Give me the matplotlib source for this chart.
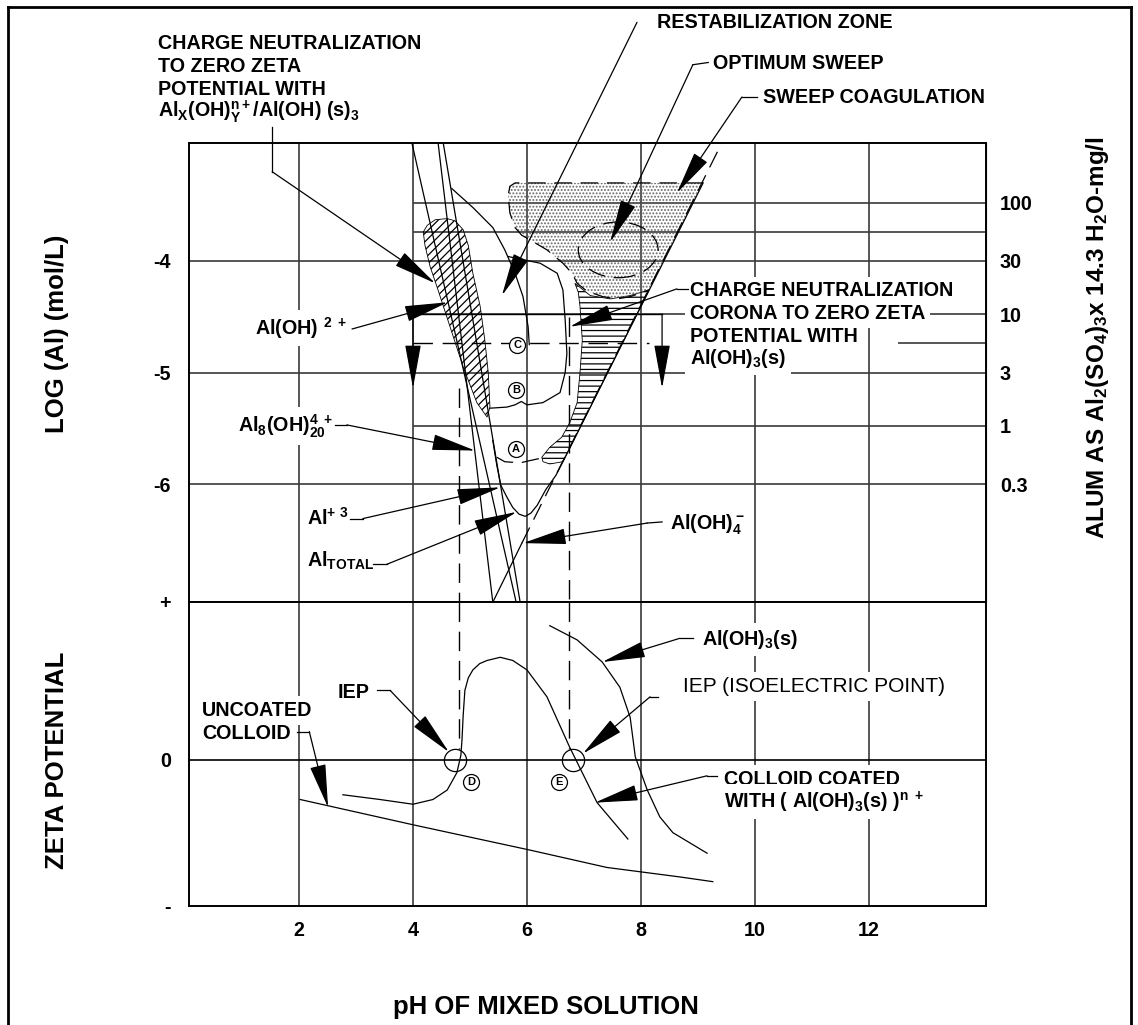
import matplotlib
matplotlib.use('Agg')
import numpy as np
import matplotlib.pyplot as plt
from matplotlib.lines import Line2D
from matplotlib.patches import Ellipse
from matplotlib.transforms import offset_copy

plt.rcParams['font.family'] = ['Liberation Sans', 'DejaVu Sans']
plt.rcParams['font.weight'] = 'bold'
plt.rcParams['mathtext.fontset'] = 'custom'
plt.rcParams['mathtext.rm'] = 'Liberation Sans:bold'
plt.rcParams['mathtext.it'] = 'Liberation Sans:bold'
plt.rcParams['mathtext.bf'] = 'Liberation Sans:bold'
plt.rcParams['mathtext.default'] = 'rm'
plt.rcParams['hatch.linewidth'] = 0.9
plt.rcParams['axes.unicode_minus'] = False

# axis values
ph_ticks = [2, 4, 6, 8, 10, 12]
log_ticks = [-6, -5, -4]
log_labels = ['-6', '-5', '-4']
zeta_ticks = [-0.924, 0, 1]
zeta_labels = ['-', '0', '+']
alum_ticks = [100, 30, 10, 3, 1, 0.3]
alum_labels = ['100', '30', '10', '3', '1', '0.3']
alum_lines = [100, 55, 10, 1]
alum_c_line = 5.5
ALUM_OFFSET = 5.477

# solubility lines (pH, log Al)
al_oh2_ph, al_oh2_log = [3.98, 5.81], [-2.94, -7.06]
al3_ph, al3_log = [4.53, 5.88], [-2.94, -7.06]
al8_ph, al8_log = [4.44, 5.40], [-2.94, -7.06]
aloh4_ph, aloh4_log = [5.40, 5.91], [-7.06, -6.53]
aloh4_ext_ph, aloh4_ext_log = [5.91, 9.42], [-6.53, -2.94]
altot_ph = [5.40, 5.47, 5.54, 5.65, 5.75, 5.86, 5.97, 6.07, 6.18, 6.33, 6.51, 6.63, 9.09]
altot_log = [-5.61, -5.83, -6.01, -6.12, -6.21, -6.27, -6.29, -6.26, -6.19, -6.05, -5.92, -5.80, -3.30]

# zones
tear_ph = [4.25, 4.18, 4.21, 4.30, 4.42, 4.65, 4.88, 5.12, 5.30, 5.35, 5.32, 5.26, 5.18, 5.05, 4.97, 4.88, 4.74, 4.60, 4.39]
tear_log = [-3.68, -3.74, -3.86, -4.05, -4.23, -4.59, -4.95, -5.27, -5.40, -5.31, -5.00, -4.71, -4.41, -4.11, -3.86, -3.72, -3.64, -3.62, -3.63]
restab_ph = [4.68, 5.05, 5.40, 5.61, 5.79, 5.93, 6.02, 6.04]
restab_log = [-3.35, -3.52, -3.70, -3.90, -4.11, -4.32, -4.59, -4.75]
cb_ph = [5.67, 6.23, 6.53, 6.63, 6.67, 6.70, 6.67, 6.58, 6.28, 6.00, 5.90, 5.79, 5.65, 5.35]
cb_log = [-3.96, -4.02, -4.11, -4.26, -4.53, -4.83, -5.00, -5.18, -5.27, -5.29, -5.26, -5.29, -5.31, -5.32]
arc_a_ph = [5.47, 5.61, 5.88, 6.05, 6.23]
arc_a_log = [-5.76, -5.80, -5.81, -5.79, -5.77]
corona_ph = [6.84, 6.90, 6.93, 6.97, 6.93, 6.88, 6.75, 6.61, 6.40, 6.26, 6.28, 6.40, 6.63, 8.14, 7.81, 7.46, 7.11]
corona_log = [-4.20, -4.28, -4.41, -4.71, -5.00, -5.27, -5.45, -5.58, -5.67, -5.76, -5.80, -5.82, -5.80, -4.26, -4.31, -4.34, -4.31]
sweep_ph = [9.09, 5.79, 5.70, 5.67, 5.70, 5.79, 5.91, 6.05, 6.35, 6.63, 6.79, 6.88, 7.05, 7.33, 7.58, 7.81, 8.14]
sweep_log = [-3.30, -3.30, -3.33, -3.41, -3.57, -3.70, -3.77, -3.81, -3.90, -4.02, -4.11, -4.20, -4.27, -4.32, -4.34, -4.32, -4.26]
optimum_center = (7.60, -3.90)
optimum_size = (1.40, 0.50)
letters_top = ['C', 'B', 'A']
letters_top_ph = [5.83, 5.81, 5.81]
letters_top_log = [-4.75, -5.16, -5.69]
iep_dash_ph = [4.81, 6.74]
iep_dash_top = [-5.14, -4.50]

# zeta curves (pH, zeta)
uncoated_ph = [2.02, 4.00, 6.05, 7.40, 8.68, 9.26]
uncoated_z = [-0.25, -0.41, -0.57, -0.68, -0.74, -0.77]
coated_ph = [2.77, 3.42, 4.00, 4.35, 4.60, 4.77, 4.84, 4.86, 4.88, 4.91, 4.97, 5.05, 5.17, 5.30, 5.53, 5.75, 6.00, 6.35, 6.75, 7.23, 7.77]
coated_z = [-0.22, -0.25, -0.28, -0.25, -0.19, -0.08, 0.03, 0.13, 0.28, 0.44, 0.52, 0.57, 0.61, 0.63, 0.65, 0.63, 0.57, 0.40, 0.08, -0.27, -0.50]
aloh3_ph = [6.40, 6.88, 7.32, 7.63, 7.81, 7.90, 8.11, 8.33, 8.56, 9.16]
aloh3_z = [0.85, 0.76, 0.62, 0.46, 0.27, 0.02, -0.19, -0.36, -0.46, -0.59]
iep_ph = [4.74, 6.81]
letters_bot = ['D', 'E']
letters_bot_ph = [5.02, 6.56]
letters_bot_z = [-0.14, -0.14]

# leaders: polyline, last point is the arrow tip
lead_cn = ([1.53, 1.53, 4.39], [-2.80, -3.20, -4.20])
lead_restab = ([7.93, 5.56], [-1.86, -4.31])
lead_optimum = ([9.18, 8.91, 7.46], [-2.22, -2.24, -3.83])
lead_sweep = ([10.04, 9.77, 8.63], [-2.53, -2.53, -3.39])
lead_corona = ([8.83, 8.63, 6.75], [-4.25, -4.25, -4.59])
lead_aloh2 = ([2.93, 4.61], [-4.61, -4.37])
lead_al8 = ([2.63, 2.84, 5.09], [-5.47, -5.47, -5.70])
lead_al3 = ([2.89, 3.12, 5.53], [-6.31, -6.31, -6.03])
lead_altot = ([3.30, 3.54, 5.82], [-6.72, -6.72, -6.25])
lead_aloh4 = ([8.37, 8.11, 5.93], [-6.34, -6.35, -6.53])
lead_aloh3s = ([8.91, 8.68, 7.32], [0.77, 0.77, 0.62])
lead_iep_r = ([8.30, 8.16, 6.98], [0.40, 0.40, 0.04])
lead_coated = ([9.33, 9.16, 7.19], [-0.10, -0.10, -0.27])
lead_iep_l = ([3.37, 3.60, 4.63], [0.44, 0.44, 0.05])
lead_uncoated = ([1.97, 2.18, 2.51], [0.18, 0.18, -0.30])
bracket_ph = [4.0, 8.37]

XMIN, XMAX = 0.07, 14.053
GRID = '#3a3a3a'
DASH = (0, (14, 7))
FS = 14.2
TITLE_FS = 18.5

fig = plt.figure(figsize=(11.38, 10.25), dpi=100)
ax_top = fig.add_axes([0.16608, 0.41268, 0.70035, 0.44780])
ax_bot = fig.add_axes([0.16608, 0.11610, 0.70035, 0.29659])

for ax in (ax_top, ax_bot):
    ax.set_xlim(XMIN, XMAX)
    for s in ax.spines.values():
        s.set_linewidth(1.4)
    for ph in ph_ticks:
        ax.axvline(ph, color=GRID, lw=1.2, zorder=1)
    ax.tick_params(length=0, labelsize=FS)

ax_top.set_ylim(-7.058, -2.942)
ax_top.set_xticks([])
ax_top.set_yticks(log_ticks, labels=log_labels)
ax_top.tick_params(axis='y', pad=13)
for v in log_ticks:
    ax_top.axhline(v, color=GRID, lw=1.2, zorder=1)
for a in alum_lines:
    ax_top.hlines(np.log10(a) - ALUM_OFFSET, 4, XMAX, color=GRID, lw=1.2, zorder=1)
c_log = np.log10(alum_c_line) - ALUM_OFFSET
ax_top.hlines(c_log, 4, 8.14, color='k', lw=1.0, linestyles=DASH, zorder=1)
ax_top.hlines(c_log, 12.51, XMAX, color=GRID, lw=1.2, zorder=1)

sec = ax_top.secondary_yaxis('right', functions=(lambda v: 10 ** (v + ALUM_OFFSET),
                                                 lambda a: np.log10(np.maximum(a, 1e-9)) - ALUM_OFFSET))
sec.set_yticks(alum_ticks, labels=alum_labels)
sec.tick_params(length=0, pad=10, labelsize=FS)

ax_bot.set_ylim(-0.924, 1.0)
ax_bot.set_xticks(ph_ticks, labels=[str(p) for p in ph_ticks])
ax_bot.set_yticks(zeta_ticks, labels=zeta_labels)
ax_bot.tick_params(axis='y', pad=13)
ax_bot.tick_params(axis='x', pad=11)
ax_bot.axhline(0, color='k', lw=1.2, zorder=1)

kw = dict(color='k', lw=0.9, zorder=2)
# zones
ax_top.fill(tear_ph, tear_log, facecolor='none', edgecolor='k', hatch='////', lw=0.6, zorder=1.5)
ax_top.fill(corona_ph, corona_log, facecolor='none', edgecolor='k', hatch='---', lw=0.6, zorder=1.5)
ax_top.fill(sweep_ph, sweep_log, facecolor='none', edgecolor='#666666', hatch='.....', lw=0, zorder=1.5)
ax_top.plot(sweep_ph, sweep_log, color='k', lw=0.9, ls=DASH, zorder=2)
ax_top.add_patch(Ellipse(optimum_center, optimum_size[0], optimum_size[1], fill=False,
                         ec='k', lw=0.9, ls=DASH, zorder=2))

# species lines
ax_top.plot(al_oh2_ph, al_oh2_log, **kw)
ax_top.plot(al3_ph, al3_log, **kw)
ax_top.plot(al8_ph, al8_log, **kw)
ax_top.plot(aloh4_ph, aloh4_log, **kw)
ax_top.plot(aloh4_ext_ph, aloh4_ext_log, color='k', lw=0.9, ls=DASH, zorder=2)
ax_top.plot(altot_ph, altot_log, **kw)
ax_top.plot(restab_ph, restab_log, **kw)
ax_top.plot(cb_ph, cb_log, **kw)
ax_top.plot(arc_a_ph, arc_a_log, color='k', lw=0.9, ls=DASH, zorder=2)

# IEP dashed verticals
for ph, top in zip(iep_dash_ph, iep_dash_top):
    ax_top.plot([ph, ph], [top, -7.058], color='k', lw=1.0, ls=DASH, zorder=2)
    ax_bot.plot([ph, ph], [1.0, 0.07], color='k', lw=1.0, ls=DASH, zorder=2)

arrow = dict(arrowstyle='-|>,head_length=2.3,head_width=0.42', color='k', lw=0.9,
             mutation_scale=12, shrinkA=0, shrinkB=0)

# bracket arrows
alum10 = np.log10(10) - ALUM_OFFSET
ax_top.plot([4.0, 8.37], [alum10, alum10], color='k', lw=1.0, zorder=2)
for ph in bracket_ph:
    ax_top.annotate('', xy=(ph, -5.14), xytext=(ph, alum10), arrowprops=arrow, zorder=5)


def leader(ax, pts):
    xs, ys = pts
    if len(xs) > 2:
        ax.plot(xs[:-1], ys[:-1], color='k', lw=0.9, clip_on=False, zorder=5)
    ax.annotate('', xy=(xs[-1], ys[-1]), xytext=(xs[-2], ys[-2]), arrowprops=arrow,
                annotation_clip=False, zorder=5)


for ld in (lead_cn, lead_restab, lead_optimum, lead_sweep, lead_corona, lead_aloh2,
           lead_al8, lead_al3, lead_altot, lead_aloh4):
    leader(ax_top, ld)
for ld in (lead_aloh3s, lead_iep_r, lead_coated, lead_iep_l, lead_uncoated):
    leader(ax_bot, ld)

# zeta curves
ax_bot.plot(uncoated_ph, uncoated_z, **kw)
ax_bot.plot(coated_ph, coated_z, **kw)
ax_bot.plot(aloh3_ph, aloh3_z, **kw)
ax_bot.plot(iep_ph, [0, 0], ls='none', marker='o', ms=16, mfc='none', mec='k', mew=0.9, zorder=3)

# letter circles
for s, x, y in zip(letters_top, letters_top_ph, letters_top_log):
    ax_top.plot(x, y, marker='o', ms=11.5, mfc='white', mec='k', mew=0.9, zorder=6)
    ax_top.text(x, y, s, ha='center', va='center', fontsize=8, zorder=7)
for s, x, y in zip(letters_bot, letters_bot_ph, letters_bot_z):
    ax_bot.plot(x, y, marker='o', ms=11.5, mfc='white', mec='k', mew=0.9, zorder=6)
    ax_bot.text(x, y, s, ha='center', va='center', fontsize=8, zorder=7)

box = dict(boxstyle='square,pad=0.25', fc='white', ec='none')


def stacked(ax, x, y, lines, pitch=22.6, weight='bold', size=FS, bbox=box):
    for i, s in enumerate(lines):
        tr = offset_copy(ax.transData, fig=fig, x=0, y=-i * pitch, units='dots')
        ax.text(x, y, s, transform=tr, va='baseline', ha='left', fontsize=size,
                fontweight=weight, bbox=bbox, zorder=4)


stacked(ax_top, -0.47, -2.103, ['CHARGE NEUTRALIZATION', 'TO ZERO ZETA', 'POTENTIAL WITH',
                                r'Al$_X$(OH)$_Y^{n+}$/Al(OH) (s)$_3$'], bbox=None)
stacked(ax_top, 8.28, -1.915, ['RESTABILIZATION ZONE'], bbox=None)
stacked(ax_top, 9.26, -2.274, ['OPTIMUM SWEEP'], bbox=None)
stacked(ax_top, 10.14, -2.587, ['SWEEP COAGULATION'], bbox=None)
stacked(ax_top, 8.86, -4.318, ['CHARGE NEUTRALIZATION', 'CORONA TO ZERO ZETA',
                               'POTENTIAL WITH', r'Al(OH)$_3$(s)'])
stacked(ax_top, 1.23, -4.659, [r'Al(OH) $^{2\ +}$'])
stacked(ax_top, 0.93, -5.534, [r'Al$_8$(OH)$_{20}^{4\ +}$'])
stacked(ax_top, 2.14, -6.368, [r'Al$^{+\ 3}$'])
stacked(ax_top, 2.14, -6.744, [r'Al$_{TOTAL}$'])
stacked(ax_top, 8.51, -6.404, [r'Al(OH)$_4^-$'])
stacked(ax_bot, 9.07, 0.728, [r'Al(OH)$_3$(s)'])
stacked(ax_bot, 8.74, 0.430, ['IEP (ISOELECTRIC POINT)'], weight='normal', size=15)
stacked(ax_bot, 9.46, -0.158, ['COLLOID COATED', r'WITH ( Al(OH)$_3$(s) )$^{n\ +}$'], pitch=23)
stacked(ax_bot, 2.68, 0.392, ['IEP'])
stacked(ax_bot, 0.30, 0.278, ['UNCOATED', 'COLLOID'], pitch=23)

# axis titles
fig.text(0.0501, 0.674, 'LOG (Al) (mol/L)', rotation=90, ha='center', va='center', fontsize=TITLE_FS)
fig.text(0.0501, 0.2585, 'ZETA POTENTIAL', rotation=90, ha='center', va='center', fontsize=TITLE_FS)
fig.text(0.964, 0.671, r'ALUM AS Al$_2$(SO$_4$)$_3$x 14.3 H$_2$O-mg/l', rotation=90,
         ha='center', va='center', fontsize=17.5)
fig.text(0.48, 0.0176, 'pH OF MIXED SOLUTION', ha='center', va='center', fontsize=TITLE_FS)

# outer frame
for xs, ys in (([8, 1131], [7, 7]), ([8, 8], [7, 1025]), ([1131, 1131], [7, 1025])):
    fig.add_artist(Line2D([x / 1138 for x in xs], [1 - y / 1025 for y in ys],
                          transform=fig.transFigure, color='k', lw=2))

fig.savefig('out.png', dpi=100)
